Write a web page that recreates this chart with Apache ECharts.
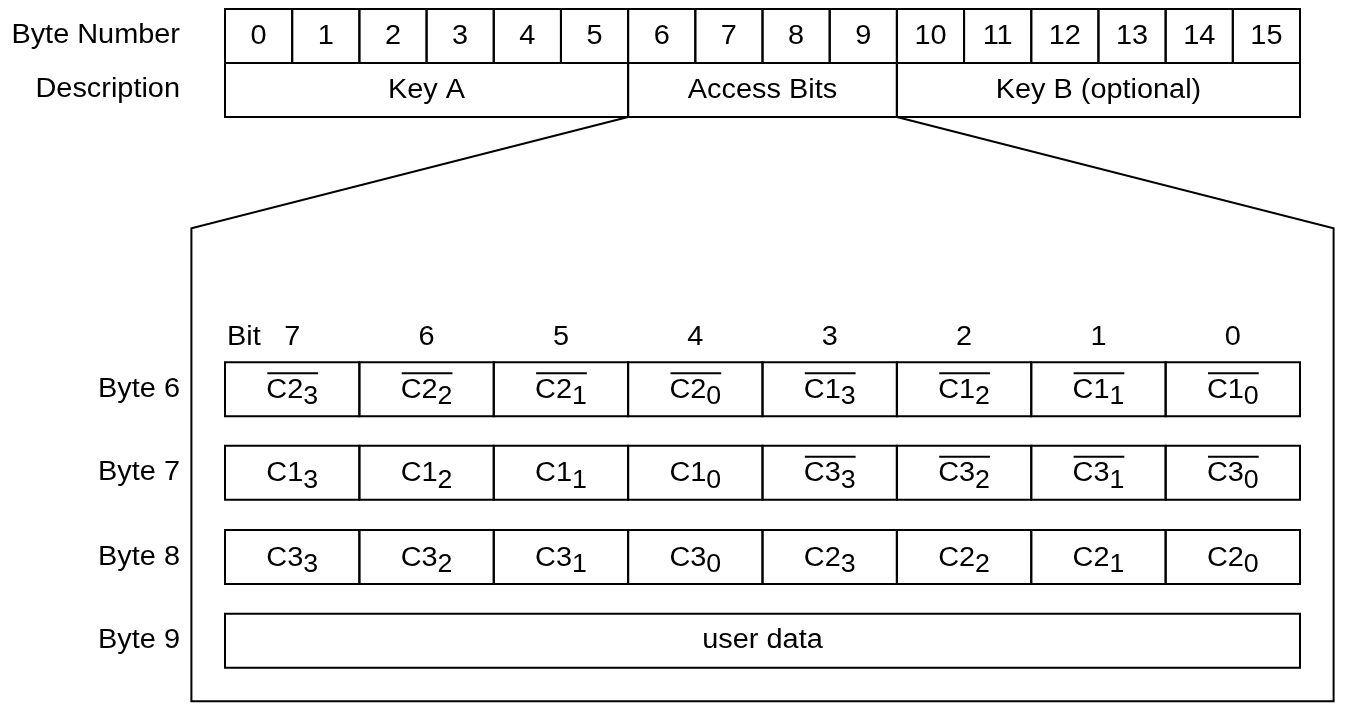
<!DOCTYPE html>
<html>
<head>
<meta charset="utf-8">
<script src="https://cdn.jsdelivr.net/npm/echarts@6/dist/echarts.min.js"></script>
<style>
html, body { margin: 0; padding: 0; background: #fff; }
#main { width: 1356px; height: 720px; }
</style>
</head>
<body>
<div id="main"></div>
<script>
// sector trailer layout: 16 bytes, top table
var byteNumbers = ['0','1','2','3','4','5','6','7','8','9','10','11','12','13','14','15'];
var descriptions = ['Key A', 'Access Bits', 'Key B (optional)'];
var descriptionSpans = [[0, 6], [6, 10], [10, 16]];
var expandedSpan = [6, 10];          // Access Bits get blown up below

// access bits, bit 7 .. bit 0 ('!' = inverted, '_' = subscript)
var bitNumbers = ['7','6','5','4','3','2','1','0'];
var byteRowLabels = ['Byte 6', 'Byte 7', 'Byte 8', 'Byte 9'];
var byte6Bits = ['!C2_3','!C2_2','!C2_1','!C2_0','!C1_3','!C1_2','!C1_1','!C1_0'];
var byte7Bits = ['C1_3','C1_2','C1_1','C1_0','!C3_3','!C3_2','!C3_1','!C3_0'];
var byte8Bits = ['C3_3','C3_2','C3_1','C3_0','C2_3','C2_2','C2_1','C2_0'];
var byte9Text = 'user data';

// layout, in axis units (x: bytes, y: row heights)
var topRows = [0, 1];
var bitLabelRow = 6.08;
var bitRows = [6.54, 8.09, 9.65, 11.2];
var frameTop = 4.06, frameBottom = 12.82, frameLeft = -0.5, frameRight = 16.5;
var labelX = -0.67;

var FONT = '27px "Liberation Sans", Arial, sans-serif';
var SUBFONT = '25px "Liberation Sans", Arial, sans-serif';
var STRETCH = 1.07;   // the original text is a little wide
var LW = 2;

var measureCtx = document.createElement('canvas').getContext('2d');
function textWidth(t, font) { measureCtx.font = font; return measureCtx.measureText(t).width; }

function plainText(x, y, t, align) {
    return { type: 'text', x: x, y: y, scaleX: STRETCH,
        style: { x: 0, y: 0, text: t, font: FONT, fill: '#000', align: align || 'center', verticalAlign: 'middle' } };
}

// "C2_3" with optional overline
function bitLabel(cx, cy, label) {
    var inv = label.charAt(0) === '!';
    if (inv) label = label.slice(1);
    var parts = label.split('_');
    var wm = textWidth(parts[0], FONT), ws = parts[1] ? textWidth(parts[1], SUBFONT) : 0;
    var x0 = -(wm + ws) / 2;
    var kids = [
        { type: 'text', style: { x: x0, y: 0, text: parts[0], font: FONT, fill: '#000', align: 'left', verticalAlign: 'middle' } }
    ];
    if (parts[1]) {
        kids.push({ type: 'text', style: { x: x0 + wm, y: 7, text: parts[1], font: SUBFONT, fill: '#000', align: 'left', verticalAlign: 'middle' } });
    }
    if (inv) {
        kids.push({ type: 'line', shape: { x1: x0 + 1, y1: -17, x2: x0 + wm + ws, y2: -17 }, style: { stroke: '#000', lineWidth: LW } });
    }
    return { type: 'group', x: cx, y: cy, scaleX: STRETCH, children: kids };
}

function cellRect(api, x0, x1, y0, y1) {
    var p0 = api.coord([x0, y0]), p1 = api.coord([x1, y1]);
    return { rect: { x: p0[0], y: p0[1], width: p1[0] - p0[0], height: p1[1] - p0[1] }, cx: (p0[0] + p1[0]) / 2, cy: (p0[1] + p1[1]) / 2 };
}

// top table cells
var topCells = [];
byteNumbers.forEach(function (n, i) { topCells.push([i, i + 1, topRows[0], n]); });
descriptions.forEach(function (d, i) { topCells.push([descriptionSpans[i][0], descriptionSpans[i][1], topRows[1], d]); });

// bit cells
var bitCells = [];
[byte6Bits, byte7Bits, byte8Bits].forEach(function (row, r) {
    row.forEach(function (b, c) { bitCells.push([c * 2, c * 2 + 2, bitRows[r], b]); });
});
bitCells.push([0, 16, bitRows[3], byte9Text]);

// free labels
var freeLabels = [];
freeLabels.push([labelX, topRows[0] + 0.5, 'Byte Number', 'right']);
freeLabels.push([labelX, topRows[1] + 0.5, 'Description', 'right']);
byteRowLabels.forEach(function (l, i) { freeLabels.push([labelX, bitRows[i] + 0.5, l, 'right']); });
freeLabels.push([0.03, bitLabelRow, 'Bit', 'left']);
bitNumbers.forEach(function (b, i) { freeLabels.push([i * 2 + 1, bitLabelRow, b, 'center']); });

var chart = echarts.init(document.getElementById('main'));
var option = {
    animation: false,
    backgroundColor: '#fff',
    grid: { left: 225, right: 56, top: 9, bottom: 0 },
    xAxis: { type: 'value', min: 0, max: 16, show: false },
    yAxis: { type: 'value', min: 0, max: 13.1667, inverse: true, show: false },
    series: [
        {
            type: 'custom',
            name: 'top',
            clip: false,
            data: topCells.map(function (c) { return [c[0], c[2]]; }),
            renderItem: function (params, api) {
                var c = topCells[params.dataIndex];
                var r = cellRect(api, c[0], c[1], c[2], c[2] + 1);
                return { type: 'group', children: [
                    { type: 'rect', shape: r.rect, style: { fill: 'none', stroke: '#000', lineWidth: LW } },
                    plainText(r.cx, r.cy + 1, c[3])
                ] };
            }
        },
        {
            type: 'custom',
            name: 'bits',
            clip: false,
            data: bitCells.map(function (c) { return [c[0], c[2]]; }),
            renderItem: function (params, api) {
                var c = bitCells[params.dataIndex];
                var r = cellRect(api, c[0], c[1], c[2], c[2] + 1);
                var kids = [{ type: 'rect', shape: r.rect, style: { fill: 'none', stroke: '#000', lineWidth: LW } }];
                if (c[3].indexOf('_') >= 0) kids.push(bitLabel(r.cx, r.cy + 1, c[3]));
                else kids.push(plainText(r.cx, r.cy, c[3]));
                return { type: 'group', children: kids };
            }
        },
        {
            type: 'custom',
            name: 'labels',
            clip: false,
            data: freeLabels.map(function (l) { return [l[0], l[1]]; }),
            renderItem: function (params, api) {
                var l = freeLabels[params.dataIndex];
                var p = api.coord([l[0], l[1]]);
                return plainText(p[0], p[1], l[2], l[3]);
            }
        },
        {
            type: 'custom',
            name: 'frame',
            clip: false,
            data: [[frameLeft, frameTop]],
            renderItem: function (params, api) {
                var a = api.coord([expandedSpan[0], topRows[1] + 1]);
                var b = api.coord([expandedSpan[1], topRows[1] + 1]);
                var tl = api.coord([frameLeft, frameTop]), tr = api.coord([frameRight, frameTop]);
                var bl = api.coord([frameLeft, frameBottom]), br = api.coord([frameRight, frameBottom]);
                return { type: 'polyline', shape: { points: [a, tl, bl, br, tr, b] },
                    style: { fill: 'none', stroke: '#000', lineWidth: LW } };
            }
        }
    ]
};
chart.setOption(option);
</script>
</body>
</html>
